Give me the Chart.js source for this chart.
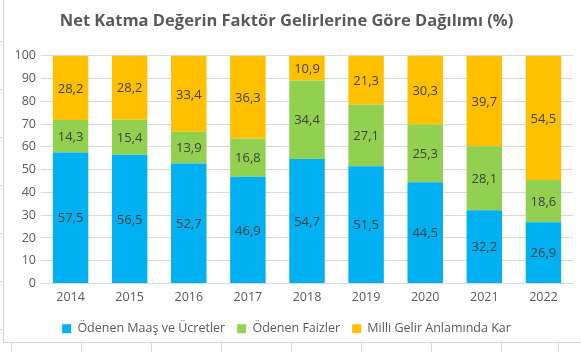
<!DOCTYPE html>
<html>
<head>
<meta charset="utf-8">
<script src="https://cdn.jsdelivr.net/npm/chart.js@4.4.1/dist/chart.umd.min.js"></script>
<style>
  html, body { margin: 0; padding: 0; background: #fff; }
  body { width: 581px; height: 352px; position: relative; overflow: hidden; }
  .cells { position: absolute; left: 0; top: 0; width: 581px; height: 352px; }
  .frame { position: absolute; left: 3px; top: -2px; width: 640px; height: 344px;
           border-left: 1px solid #d4d4d4; border-bottom: 1px solid #d4d4d4; background: #fff; }
  #wrap { position: absolute; left: 0; top: 0; width: 581px; height: 352px; }
</style>
</head>
<body>
<svg class="cells" width="581" height="352">
  <g stroke="#dadada" stroke-width="1">
    <line x1="11.5" y1="343" x2="11.5" y2="352"/>
    <line x1="81.5" y1="343" x2="81.5" y2="352"/>
    <line x1="151.5" y1="343" x2="151.5" y2="352"/>
    <line x1="221.5" y1="343" x2="221.5" y2="352"/>
    <line x1="291.5" y1="343" x2="291.5" y2="352"/>
    <line x1="361.5" y1="343" x2="361.5" y2="352"/>
    <line x1="431.5" y1="343" x2="431.5" y2="352"/>
    <line x1="501.5" y1="343" x2="501.5" y2="352"/>
    <line x1="558.5" y1="343" x2="558.5" y2="352"/>
    <line x1="0" y1="41.5" x2="3" y2="41.5"/>
    <line x1="0" y1="89.5" x2="3" y2="89.5"/>
    <line x1="0" y1="137.5" x2="3" y2="137.5"/>
    <line x1="0" y1="185.5" x2="3" y2="185.5"/>
    <line x1="0" y1="233.5" x2="3" y2="233.5"/>
    <line x1="0" y1="281.5" x2="3" y2="281.5"/>
    <line x1="0" y1="329.5" x2="3" y2="329.5"/>
  </g>
</svg>
<div class="frame"></div>
<div id="wrap"><canvas id="chart" width="581" height="352"></canvas></div>
<script>
  // Data
  const years = ["2014", "2015", "2016", "2017", "2018", "2019", "2020", "2021", "2022"];
  const maasUcret = [57.5, 56.5, 52.7, 46.9, 54.7, 51.5, 44.5, 32.2, 26.9];
  const faizler = [14.3, 15.4, 13.9, 16.8, 34.4, 27.1, 25.3, 28.1, 18.6];
  const kar = [28.2, 28.2, 33.4, 36.3, 10.9, 21.3, 30.3, 39.7, 54.5];
  const yTicks = [0, 10, 20, 30, 40, 50, 60, 70, 80, 90, 100];

  const textColor = "#595959";
  const fontFamily = "'Open Sans', 'Noto Sans', sans-serif";

  // Value labels in the middle of each segment, Turkish decimal comma
  const segmentLabels = {
    id: "segmentLabels",
    afterDatasetsDraw(chart) {
      const ctx = chart.ctx;
      ctx.save();
      ctx.font = "13px " + fontFamily;
      ctx.fillStyle = "#3f3f3f";
      ctx.textAlign = "center";
      ctx.textBaseline = "middle";
      chart.data.datasets.forEach(function(ds, i) {
        const meta = chart.getDatasetMeta(i);
        meta.data.forEach(function(bar, j) {
          const p = bar.getProps(["x", "y", "base"], true);
          const txt = ds.data[j].toFixed(1).replace(".", ",");
          ctx.fillText(txt, p.x, (p.y + p.base) / 2 + 1);
        });
      });
      ctx.restore();
    }
  };

  new Chart(document.getElementById("chart").getContext("2d"), {
    type: "bar",
    data: {
      labels: years,
      datasets: [
        { label: "Ödenen Maaş ve Ücretler", data: maasUcret, backgroundColor: "#00b0f0" },
        { label: "Ödenen Faizler", data: faizler, backgroundColor: "#92d050" },
        { label: "Milli Gelir Anlamında Kar", data: kar, backgroundColor: "#ffc000" }
      ]
    },
    options: {
      responsive: false,
      animation: false,
      layout: { padding: { left: 0, right: 8, top: 0, bottom: 7 } },
      datasets: { bar: { barPercentage: 0.6, categoryPercentage: 1 } },
      plugins: {
        title: {
          display: true,
          text: "Net Katma Değerin Faktör Gelirlerine Göre Dağılımı (%)",
          color: textColor,
          font: { family: fontFamily, size: 16.5, weight: "bold" },
          padding: { top: 11, bottom: 25 }
        },
        legend: {
          position: "bottom",
          labels: {
            color: textColor,
            font: { family: fontFamily, size: 12.5 },
            boxWidth: 9,
            boxHeight: 9,
            padding: 12
          }
        },
        tooltip: { enabled: false }
      },
      scales: {
        x: {
          stacked: true,
          grid: { display: false, drawTicks: false },
          border: { color: "#d9d9d9" },
          ticks: { color: textColor, font: { family: fontFamily, size: 12.5 }, padding: 6 }
        },
        y: {
          stacked: true,
          min: 0,
          max: 100,
          afterBuildTicks(scale) {
            scale.ticks = yTicks.map(function(v) { return { value: v }; });
          },
          afterFit(scale) { scale.width = 41; },
          grid: { color: "#d9d9d9", drawTicks: false },
          border: { display: false },
          ticks: { color: textColor, font: { family: fontFamily, size: 12.5 }, padding: 5 }
        }
      }
    },
    plugins: [segmentLabels]
  });
</script>
</body>
</html>
